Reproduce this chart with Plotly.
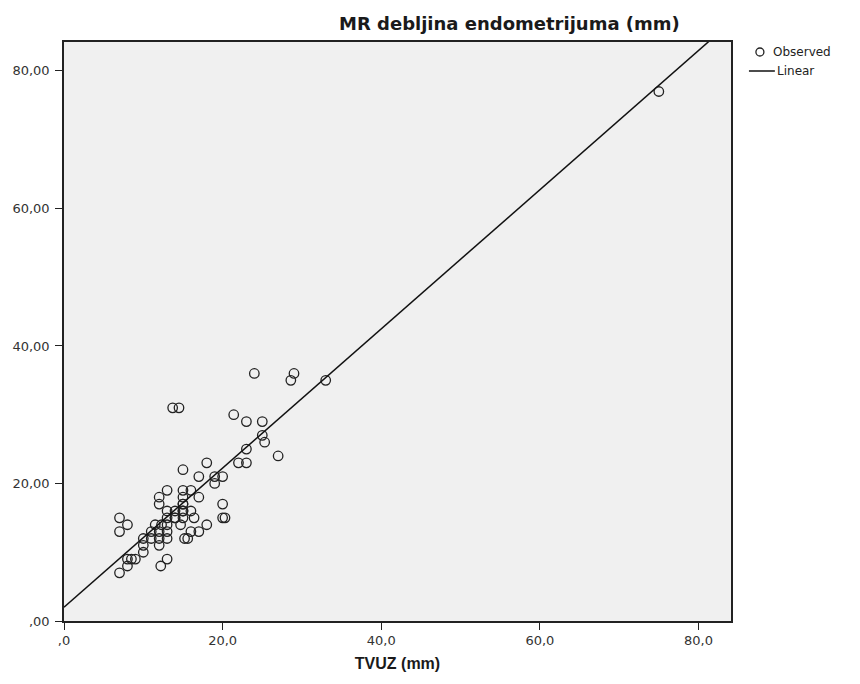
import plotly.graph_objects as go

tvuz = [24, 29, 28.6, 33, 13.7, 14.5, 21.4, 23, 25, 25, 25.3, 23, 27, 22, 23, 18,
        15, 17, 19, 20, 19, 13, 15, 16, 12, 15, 17, 12, 15, 20, 13, 14, 15, 16,
        7, 13, 14, 15, 16.4, 20, 20.3, 8, 11.5, 12.3, 13, 14.7, 18, 7, 11, 12, 13,
        16, 17, 10, 12, 13, 15.2, 15.6, 10, 12, 10, 8, 8.5, 9, 13, 8, 12.2, 7,
        14, 11, 15, 15, 75]
mr = [36, 36, 35, 35, 31, 31, 30, 29, 29, 27, 26, 25, 24, 23, 23, 23,
      22, 21, 21, 21, 20, 19, 19, 19, 18, 18, 18, 17, 17, 17, 16, 16, 16, 16,
      15, 15, 15, 15, 15, 15, 15, 14, 14, 14, 14, 14, 14, 13, 13, 13, 13,
      13, 13, 12, 12, 12, 12, 12, 11, 11, 10, 9, 9, 9, 9, 8, 8, 7,
      15, 12, 17, 16, 77]

# Linear fit line (coefficients)
fit_intercept = 2.0
fit_slope = 1.012
fit_x = [0, 84.1]

x_tickvals = [0, 20, 40, 60, 80]
x_ticktext = [",0", "20,0", "40,0", "60,0", "80,0"]
y_tickvals = [0, 20, 40, 60, 80]
y_ticktext = [",00", "20,00", "40,00", "60,00", "80,00"]

legend_labels = ["Observed", "Linear"]

fit_y = [fit_intercept + fit_slope * v for v in fit_x]

sans = "Liberation Sans, Arial, sans-serif"
wide = "DejaVu Sans, Verdana, sans-serif"
ink = "#1a1a1a"

fig = go.Figure()
fig.add_trace(go.Scatter(
    x=tvuz, y=mr, mode="markers", name=legend_labels[0], showlegend=False,
    marker=dict(symbol="circle-open", size=9.5, color="#222222", line=dict(width=1.3)),
    cliponaxis=False,
))
fig.add_trace(go.Scatter(
    x=fit_x, y=fit_y, mode="lines", name=legend_labels[1], showlegend=False,
    line=dict(color="#111111", width=1.5),
))

axis_common = dict(
    showline=True, linecolor="#222222", linewidth=1.5, mirror=True,
    ticks="outside", ticklen=7, tickcolor="#222222", tickwidth=1.3,
    showgrid=False, zeroline=False,
)

fig.update_layout(
    width=860, height=684,
    margin=dict(l=62, r=129, t=42, b=63),
    paper_bgcolor="white",
    plot_bgcolor="#F0F0F0",
    font=dict(family=sans, color=ink),
    xaxis=dict(range=[0, 84.1], tickvals=x_tickvals, ticktext=x_ticktext,
               tickfont=dict(family=wide, size=13, color="#333333"),
               title=dict(text="<b>TVUZ (mm)</b>", font=dict(size=16, family=sans, color=ink), standoff=10),
               **axis_common),
    yaxis=dict(range=[0, 84.2], tickvals=y_tickvals, ticktext=y_ticktext,
               tickfont=dict(family=wide, size=13, color="#333333"),
               ticklabelstandoff=3,
               **axis_common),
    showlegend=False,
)

# Title
fig.add_annotation(
    text="<b>MR debljina endometrijuma (mm)</b>", xref="paper", yref="paper",
    x=(682 - 62) / 669, xanchor="right", y=1.0, yanchor="bottom", yshift=6,
    showarrow=False, font=dict(size=18, family=wide, color=ink),
)

# Legend (drawn manually to match SPSS layout)
obs_y = (621 - 52) / 579
lin_y = (621 - 71) / 579
sym_x = (760 - 62) / 669
fig.add_shape(type="circle", xref="paper", yref="paper", xsizemode="pixel", ysizemode="pixel",
              xanchor=sym_x, yanchor=obs_y, x0=-4, x1=4, y0=-4, y1=4,
              line=dict(color="#222222", width=1.3))
fig.add_shape(type="line", xref="paper", yref="paper",
              x0=(749 - 62) / 669, x1=(775 - 62) / 669, y0=lin_y, y1=lin_y,
              line=dict(color="#111111", width=1.5))
fig.add_annotation(text=legend_labels[0], xref="paper", yref="paper", x=(771 - 62) / 669, y=obs_y,
                   xanchor="left", yanchor="middle", showarrow=False,
                   font=dict(size=12, family=wide, color="#222222"))
fig.add_annotation(text=legend_labels[1], xref="paper", yref="paper", x=(775 - 62) / 669, y=lin_y,
                   xanchor="left", yanchor="middle", showarrow=False,
                   font=dict(size=12, family=wide, color="#222222"))

fig.write_html("out.html")
